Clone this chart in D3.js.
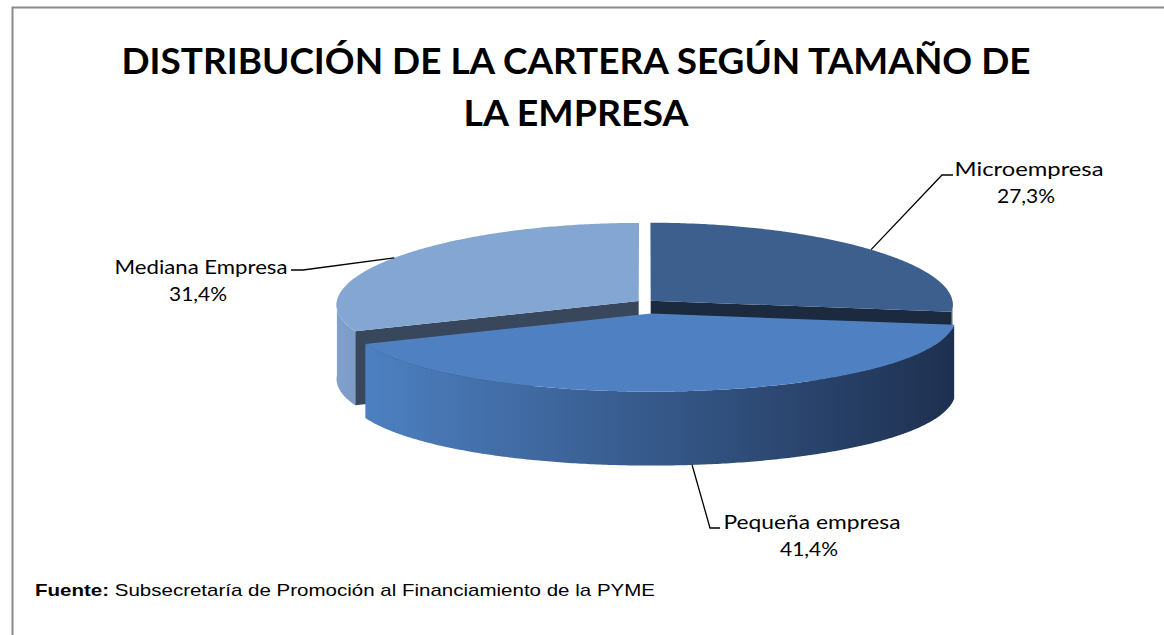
<!DOCTYPE html>
<html>
<head>
<meta charset="utf-8">
<script src="https://cdn.jsdelivr.net/npm/d3@7"></script>
<style>
  body { margin: 0; background: #fff; }
  svg { display: block; }
</style>
</head>
<body>
<svg id="chart" width="1164" height="635"></svg>
<script>
// data
var categories = ["Microempresa", "Pequeña empresa", "Mediana Empresa"];
var values = [27.3, 41.4, 31.4];
var pctLabels = ["27,3%", "41,4%", "31,4%"];
var titleLines = ["DISTRIBUCIÓN DE LA CARTERA SEGÚN TAMAÑO DE", "LA EMPRESA"];

// look of each slice (top, wall light, wall dark, cut face)
var topColors = ["#3c5f8e", "#4f81c2", "#84a6d2"];
var wallStops = [
  ["#22344f", "#4a5c76"],
  ["#4d80c1", "#1e3050"],
  ["#80a1cc", "#7c9bc6"]
];
var cutColors = ["#1b2a3f", "#2a3d5a", "#38475c"];
var explode = [0.025, 0.15, 0.025];

var svg = d3.select("#chart");
var cx = 645, cy = 302, rx = 302, ry = 78, depth = 74, K = 0.05;

// frame
svg.append("path")
  .attr("d", "M12.5,635 L12.5,7.5 L1164,7.5")
  .attr("fill", "none")
  .attr("stroke", "#8a8a8a")
  .attr("stroke-width", 2);

// title
svg.append("g")
  .selectAll("text")
  .data(titleLines)
  .enter()
  .append("text")
  .attr("x", 576)
  .attr("y", (d, i) => 74 + i * 52)
  .attr("text-anchor", "middle")
  .attr("textLength", (d, i) => i == 0 ? 909 : 225)
  .attr("lengthAdjust", "spacingAndGlyphs")
  .style("font", "bold 37px Lato")
  .text(d => d);

var pie = d3.pie().sort(null).value(d => d);
var arcs = pie(values);

function offsetOf(i) {
  var mid = (arcs[i].startAngle + arcs[i].endAngle) / 2;
  return { x: explode[i] * Math.sin(mid), y: explode[i] * Math.cos(mid) };
}

// ground coords -> screen, with a bit of perspective
function pt(theta, r, z, off) {
  var gx = r * Math.sin(theta) + off.x;
  var gy = r * Math.cos(theta) + off.y;
  var f = 1 - K * gy;
  return [cx + rx * gx * f, cy - ry * gy + z];
}

function arcPts(a0, a1, z, off) {
  var n = Math.max(2, Math.ceil(Math.abs(a1 - a0) / 0.01));
  var pts = [];
  for (var k = 0; k <= n; k++) {
    pts.push(pt(a0 + (a1 - a0) * k / n, 1, z, off));
  }
  return pts;
}

var line = d3.line();
var defs = svg.append("defs");
var pieG = svg.append("g");

// back slices first
var order = d3.range(arcs.length).sort((a, b) => {
  var ma = (arcs[a].startAngle + arcs[a].endAngle) / 2;
  var mb = (arcs[b].startAngle + arcs[b].endAngle) / 2;
  return Math.cos(mb) - Math.cos(ma);
});

order.forEach(function(i) {
  var a0 = arcs[i].startAngle, a1 = arcs[i].endAngle;
  var off = offsetOf(i);
  var g = pieG.append("g");

  // cut faces facing the viewer
  [a0, a1].forEach(function(a, j) {
    var visible = j == 0 ? Math.sin(a) < -0.01 : Math.sin(a) > 0.01;
    if (!visible) return;
    var p = [pt(a, 0, 0, off), pt(a, 1, 0, off), pt(a, 1, depth, off), pt(a, 0, depth, off)];
    g.append("path")
      .attr("d", line(p) + "Z")
      .attr("fill", cutColors[i]);
  });

  // outer wall, front half only
  var w0 = Math.max(a0, Math.PI / 2), w1 = Math.min(a1, Math.PI * 1.5);
  if (w1 > w0) {
    var top = arcPts(w0, w1, 0, off);
    var bot = arcPts(w1, w0, depth, off);
    var xs = top.map(p => p[0]);
    var gid = "wall" + i;
    var grad = defs.append("linearGradient")
      .attr("id", gid)
      .attr("gradientUnits", "userSpaceOnUse")
      .attr("x1", d3.min(xs)).attr("x2", d3.max(xs))
      .attr("y1", 0).attr("y2", 0);
    grad.append("stop").attr("offset", 0).attr("stop-color", wallStops[i][0]);
    grad.append("stop").attr("offset", 1).attr("stop-color", wallStops[i][1]);
    g.append("path")
      .attr("d", line(top.concat(bot)) + "Z")
      .attr("fill", "url(#" + gid + ")");
  }

  // top face
  var face = [pt(0, 0, 0, off)].concat(arcPts(a0, a1, 0, off));
  g.append("path")
    .attr("d", line(face) + "Z")
    .attr("fill", topColors[i]);
});

// labels and leader lines
var labelPos = [
  { x: 1029, y: 176, elbow: [942, 175], end: [953, 175], w: 149 },
  { x: 812, y: 529, elbow: [710, 528], end: [720, 528], w: 177 },
  { x: 201, y: 274, elbow: [303, 270], end: [291, 270], w: 173 }
];

var labG = svg.append("g");
arcs.forEach(function(d, i) {
  var mid = (d.startAngle + d.endAngle) / 2;
  var z = Math.cos(mid) < 0 ? depth : 0;
  var anchor = pt(mid, 1, z, offsetOf(i));
  var lp = labelPos[i];
  labG.append("path")
    .attr("d", line([anchor, lp.elbow, lp.end]))
    .attr("fill", "none")
    .attr("stroke", "#000")
    .attr("stroke-width", 1.3);
  labG.append("text")
    .attr("x", lp.x).attr("y", lp.y)
    .attr("text-anchor", "middle")
    .attr("textLength", lp.w)
    .attr("lengthAdjust", "spacingAndGlyphs")
    .style("font", "20px Lato")
    .text(categories[i]);
  labG.append("text")
    .attr("x", lp.x - 3).attr("y", lp.y + 27)
    .attr("text-anchor", "middle")
    .attr("textLength", 58)
    .attr("lengthAdjust", "spacingAndGlyphs")
    .style("font", "20px Lato")
    .text(pctLabels[i]);
});

// source note
var src = svg.append("text")
  .attr("x", 35).attr("y", 596)
  .attr("textLength", 620)
  .attr("lengthAdjust", "spacingAndGlyphs")
  .style("font", "17px 'Liberation Sans'");
src.append("tspan").style("font-weight", "bold").text("Fuente:");
src.append("tspan").text(" Subsecretaría  de Promoción al Financiamiento de la PYME");
</script>
</body>
</html>
